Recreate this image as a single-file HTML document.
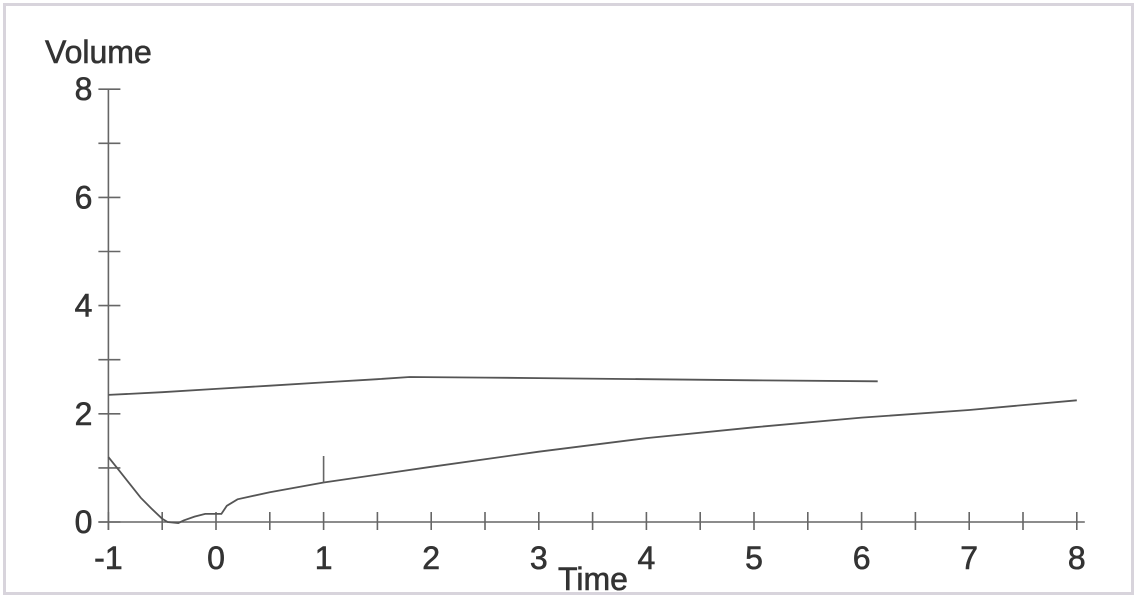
<!DOCTYPE html>
<html><head><meta charset="utf-8"><style>
body{margin:0;background:#fff}
svg{display:block}
text{font-family:"Liberation Sans",Arial,sans-serif;fill:#333;stroke:#333;stroke-width:0.6;font-size:32px}
</style></head><body>
<svg width="1138" height="599">
<rect x="4.5" y="4.5" width="1128" height="589" fill="#fff" stroke="#d8d4dc" stroke-width="3"/>
<g id="axes"></g>
<g id="series"></g>
<text x="45" y="63">Volume</text>
<text x="558" y="590">Time</text>
</svg>
<script>
const xTicks=[-1,0,1,2,3,4,5,6,7,8];
const yTicks=[0,2,4,6,8];
const upperX=[-1,-0.5,0,0.5,1,1.5,1.8,2.5,3,4,5,6.15];
const upperY=[2.35,2.4,2.46,2.52,2.58,2.64,2.68,2.67,2.66,2.64,2.62,2.6];
const lowerX=[-1,-0.9,-0.8,-0.7,-0.6,-0.5,-0.45,-0.35,-0.3,-0.2,-0.1,0.05,0.1,0.2,0.5,1,2,3,4,5,6,7,8];
const lowerY=[1.2,0.95,0.7,0.45,0.25,0.06,0,-0.02,0.03,0.1,0.15,0.15,0.3,0.42,0.55,0.73,1.02,1.3,1.55,1.75,1.93,2.07,2.25];
const sx=v=>216+(v)*107.6, sy=v=>522-v*54.1;
const NS="http://www.w3.org/2000/svg";
const ax=document.getElementById('axes'), se=document.getElementById('series');
function ln(p,x1,y1,x2,y2,n){const l=document.createElementNS(NS,'line');l.setAttribute('x1',x1);l.setAttribute('y1',y1);l.setAttribute('x2',x2);l.setAttribute('y2',y2);l.setAttribute('stroke','#666');l.setAttribute('stroke-width','1.6');


p.appendChild(l);}
function tx(s,x,y,n,anchor){const t=document.createElementNS(NS,'text');t.setAttribute('x',x);t.setAttribute('y',y);t.setAttribute('text-anchor',anchor);t.textContent=s;


ax.appendChild(t);}
ln(ax,sx(-1),sy(8),sx(-1),sy(0)+8,'y-axis-line');
ln(ax,sx(-1)-10,sy(0),sx(8)+8,sy(0),'x-axis-line');
for(let v=0;v<=8;v++)ln(ax,sx(-1)-10,sy(v),sx(-1)+12,sy(v),'y-tick');
for(let v=-1;v<=8;v+=0.5)ln(ax,sx(v),sy(0)-10,sx(v),sy(0)+8,'x-tick');
yTicks.forEach(v=>tx(String(v),sx(-1)-16,sy(v)+11,'y-tick-label','end'));
xTicks.forEach(v=>tx(String(v),sx(v),sy(0)+47,'x-tick-label','middle'));
function path(X,Y,n){const p=document.createElementNS(NS,'path');p.setAttribute('d',X.map((x,i)=>(i?'L':'M')+sx(x).toFixed(1)+','+sy(Y[i]).toFixed(1)).join(''));p.setAttribute('fill','none');p.setAttribute('stroke','#555');p.setAttribute('stroke-width','1.8');


se.appendChild(p);}
path(upperX,upperY,'upper-curve');
path(lowerX,lowerY,'lower-curve');
ln(se,sx(1),sy(0.73),sx(1),sy(1.22),'marker-at-1');
</script>
</body></html>
